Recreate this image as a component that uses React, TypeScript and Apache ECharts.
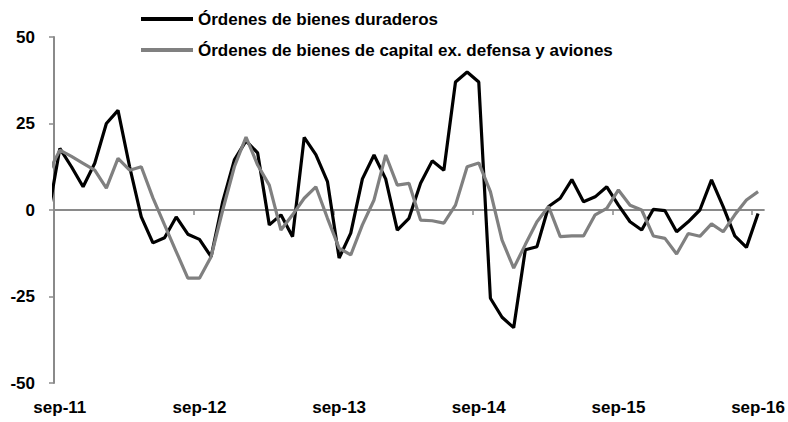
import React, { useEffect, useRef } from "react";
import * as echarts from "echarts";

// Monthly categories (the first one lies just left of the plot and is clipped)
const months = [
  "ago-11", "sep-11", "oct-11", "nov-11", "dic-11",
  "ene-12", "feb-12", "mar-12", "abr-12", "may-12", "jun-12", "jul-12", "ago-12", "sep-12", "oct-12", "nov-12", "dic-12",
  "ene-13", "feb-13", "mar-13", "abr-13", "may-13", "jun-13", "jul-13", "ago-13", "sep-13", "oct-13", "nov-13", "dic-13",
  "ene-14", "feb-14", "mar-14", "abr-14", "may-14", "jun-14", "jul-14", "ago-14", "sep-14", "oct-14", "nov-14", "dic-14",
  "ene-15", "feb-15", "mar-15", "abr-15", "may-15", "jun-15", "jul-15", "ago-15", "sep-15", "oct-15", "nov-15", "dic-15",
  "ene-16", "feb-16", "mar-16", "abr-16", "may-16", "jun-16", "jul-16", "ago-16", "sep-16",
];

const durables = [
  -1.5, 17.8, 12.5, 6.7, 13.5,
  25, 28.8, 12.5, -2, -9.5, -8, -2, -7, -8.5, -13.5, 2.4, 14.5,
  20, 16.5, -4.3, -1.4, -7.7, 21, 16, 8.2, -13.9, -6.7, 9, 15.9,
  9, -5.8, -2.4, 7.7, 14.2, 11.5, 37, 39.9, 37, -25.5, -31, -34,
  -11.5, -10.6, 1, 3.4, 8.8, 2.4, 3.8, 6.7, 1.4, -3.4, -5.8, 0.2,
  -0.2, -6.3, -3.4, 0, 8.7, 1, -7.5, -10.8, -1,
];

const capitalGoods = [
  10.7, 17.3, 15.5, 13.5, 11.5,
  6.3, 14.9, 11.5, 12.5, 3.5, -4.3, -12, -19.7, -19.7, -13.5, 0, 12.5,
  21.1, 13, 7.2, -5.8, -1.4, 3.4, 6.7, -2.4, -11, -13, -4.3, 2.9,
  15.9, 7.2, 7.7, -2.9, -3.1, -3.8, 1.4, 12.5, 13.6, 5.3, -8.7, -16.8,
  -10, -3.4, 1, -7.7, -7.5, -7.5, -1.4, 0.5, 5.8, 1.4, 0, -7.5,
  -8.2, -12.7, -6.8, -7.6, -4, -6.3, -1.4, 2.9, 5.3,
];

const yearLabels = ["sep-11", "sep-12", "sep-13", "sep-14", "sep-15", "sep-16"];
const seriesNames = [
  "Órdenes de bienes duraderos",
  "Órdenes de bienes de capital ex. defensa y aviones",
];
const yTicks = { min: -50, max: 50, interval: 25 };

const FONT = "'Liberation Sans', Arial, Helvetica, sans-serif";
const AXIS_GRAY = "#8a8a8a";

export default function App() {
  const ref = useRef<HTMLDivElement>(null);

  useEffect(() => {
    if (!ref.current) return;
    const chart = echarts.init(ref.current, null, { renderer: "svg" });

    const toData = (vals: number[]) => vals.map((v, k) => [k - 1, v]);
    const labelPos = yearLabels.map((l) => months.indexOf(l) - 1);
    const tickPos = labelPos.map((p) => p - 0.5);
    const lastIdx = months.length - 2;

    chart.setOption({
      animation: false,
      backgroundColor: "#ffffff",
      grid: { left: 54, right: 22, top: 37, bottom: 39, containLabel: false },
      legend: {
        orient: "vertical",
        left: 141,
        top: 9,
        padding: 0,
        itemGap: 11,
        itemWidth: 52,
        itemHeight: 4,
        icon: "rect",
        data: seriesNames,
        textStyle: {
          fontFamily: FONT,
          fontWeight: "bold",
          fontSize: 17,
          color: "#000",
          lineHeight: 20,
        },
      },
      xAxis: [
        {
          type: "value",
          min: -0.5,
          max: lastIdx + 0.5,
          position: "bottom",
          axisLine: { show: true, onZero: true, lineStyle: { color: AXIS_GRAY, width: 2 } },
          axisTick: {
            show: true,
            length: 5,
            customValues: tickPos,
            lineStyle: { color: AXIS_GRAY, width: 1.5 },
          },
          axisLabel: { show: false },
          splitLine: { show: false },
        },
        {
          type: "value",
          min: -0.5,
          max: lastIdx + 0.5,
          position: "bottom",
          axisLine: { show: false, onZero: false },
          axisTick: { show: false },
          splitLine: { show: false },
          axisLabel: {
            show: true,
            customValues: labelPos,
            margin: 16,
            fontFamily: FONT,
            fontWeight: "bold",
            fontSize: 17,
            color: "#000",
            formatter: (v: number) => months[Math.round(v) + 1] ?? "",
          },
        },
      ],
      yAxis: {
        type: "value",
        min: yTicks.min,
        max: yTicks.max,
        interval: yTicks.interval,
        axisLine: { show: true, onZero: false, lineStyle: { color: AXIS_GRAY, width: 2 } },
        axisTick: { show: true, length: 5, lineStyle: { color: AXIS_GRAY, width: 1.5 } },
        splitLine: { show: false },
        axisLabel: {
          margin: 19,
          fontFamily: FONT,
          fontWeight: "bold",
          fontSize: 17,
          color: "#000",
        },
      },
      series: [
        {
          name: seriesNames[0],
          type: "line",
          xAxisIndex: 0,
          data: toData(durables),
          symbol: "none",
          clip: true,
          color: "#000000",
          lineStyle: { color: "#000000", width: 3.2 },
        },
        {
          name: seriesNames[1],
          type: "line",
          xAxisIndex: 0,
          data: toData(capitalGoods),
          symbol: "none",
          clip: true,
          color: "#808080",
          lineStyle: { color: "#808080", width: 3.2 },
        },
      ],
    });

    return () => chart.dispose();
  }, []);

  return (
    <div
      ref={ref}
      style={{ position: "fixed", left: 0, top: 0, width: 788, height: 422, background: "#fff" }}
    />
  );
}
